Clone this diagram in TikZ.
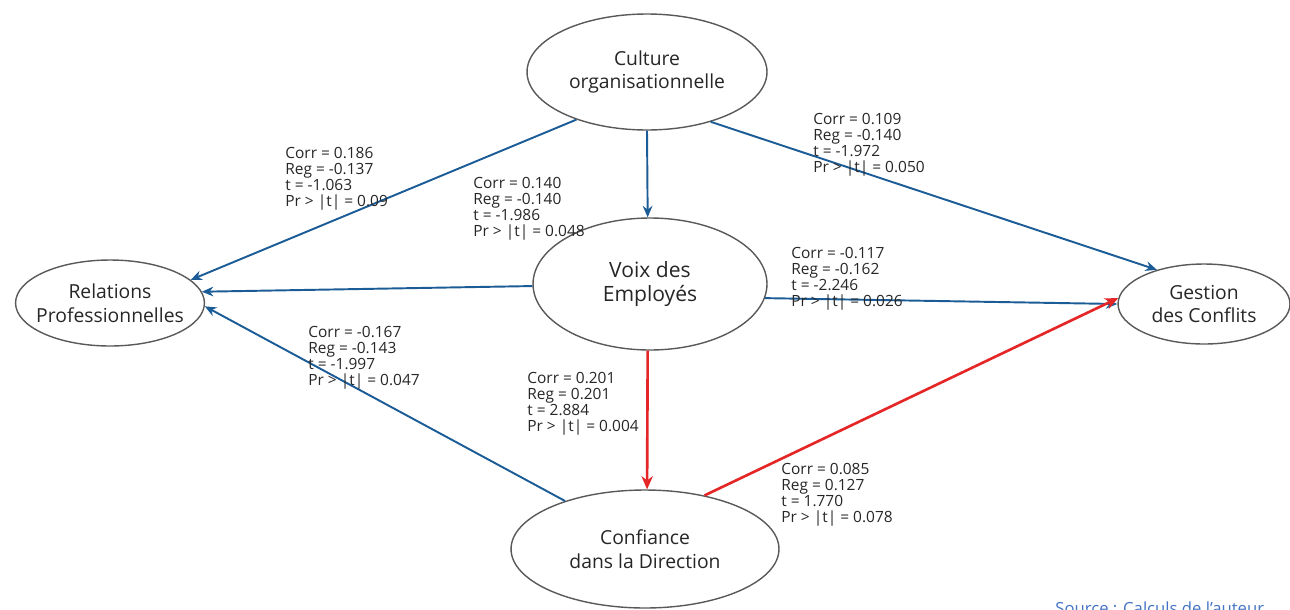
\documentclass[tikz,border=0pt]{standalone}
\usepackage{fontspec}
\setmainfont{Open Sans}
\usepackage{xcolor}
\usepackage{tikz}
\usetikzlibrary{shapes.geometric, arrows.meta}

\definecolor{pathblue}{RGB}{28,92,150}
\definecolor{pathred}{RGB}{228,38,38}
\definecolor{inkgray}{RGB}{38,38,38}
\definecolor{srcblue}{RGB}{68,114,196}

\begin{document}
\begin{tikzpicture}[
    x=0.02cm, y=-0.02cm,
    var/.style={draw=black!65, line width=0.8pt, ellipse, inner sep=-4pt, align=center, text=inkgray, font=\fontsize{11}{13.5}\selectfont},
    stat/.style={anchor=north west, align=left, inner sep=0pt, text=inkgray, font=\fontsize{8.8}{9.1}\selectfont},
    arr/.style={-{Stealth[length=6.5pt, width=5.5pt]}, line width=1.1pt, draw=pathblue},
    sig/.style={-{Stealth[length=7.5pt, width=6.5pt]}, line width=1.5pt, draw=pathred}
]
    \useasboundingbox (0,0) rectangle (1290,609);
    \clip (0,0) rectangle (1290,609);

    \node[var, minimum width=4.8cm, minimum height=2.32cm] (cult) at (647,72) {Culture\\organisationnelle};
    \node[var, minimum width=4.68cm, minimum height=2.64cm, font=\fontsize{12}{14}\selectfont] (voix) at (650,284) {Voix des\\Employés};
    \node[var, minimum width=3.76cm, minimum height=1.72cm] (rel) at (110,303) {Relations\\Professionnelles};
    \node[var, minimum width=3.44cm, minimum height=1.6cm] (gest) at (1204,304) {Gestion\\des Conflits};
    \node[var, minimum width=5.36cm, minimum height=2.36cm] (conf) at (645,549) {Confiance\\dans la Direction};

    \draw[arr] (cult.214) -- (rel.16);
    \draw[arr] (cult.270) -- (voix.92);
    \draw[arr] (cult.322) -- (gest.144);
    \draw[arr] (voix.181) -- (rel.7);
    \draw[arr] (voix.353) -- (gest.180);
    \draw[sig] (voix.268) -- (conf.88);
    \draw[arr] (conf.149) -- (rel.358);
    \draw[sig] (conf.42) -- (gest.176);

    \node[stat] (s1) at (285,147) {Corr = 0.186\\Reg = -0.137\\t = -1.063\\Pr > |t| = 0.09};
    \node[stat] (s2) at (473,177) {Corr = 0.140\\Reg = -0.140\\t = -1.986\\Pr > |t| = 0.048};
    \node[stat] (s3) at (813,113) {Corr = 0.109\\Reg = -0.140\\t = -1.972\\Pr > |t| = 0.050};
    \node[stat] (s4) at (791,247) {Corr = -0.117\\Reg = -0.162\\t = -2.246\\Pr > |t| = 0.026};
    \node[stat] (s5) at (308,326) {Corr = -0.167\\Reg = -0.143\\t = -1.997\\Pr > |t| = 0.047};
    \node[stat] (s6) at (527,372) {Corr = 0.201\\Reg = 0.201\\t = 2.884\\Pr > |t| = 0.004};
    \node[stat] (s7) at (781,463) {Corr = 0.085\\Reg = 0.127\\t = 1.770\\Pr > |t| = 0.078};

    \node[anchor=base west, inner sep=0pt, text=srcblue, font=\fontsize{9.5}{11}\selectfont] (src) at (1055,614) {Source : Calculs de l'auteur};
\end{tikzpicture}
\end{document}
